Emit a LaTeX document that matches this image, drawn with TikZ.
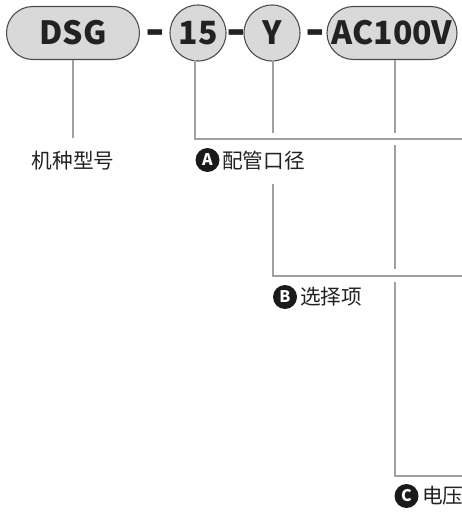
\documentclass[tikz,border=0pt]{standalone}
\usepackage{fontspec}
\setmainfont{Noto Sans CJK SC}
\definecolor{pillfill}{HTML}{D9D9D9}
\definecolor{pillborder}{HTML}{4A4A4A}
\definecolor{textdark}{HTML}{222222}
\definecolor{linegray}{HTML}{A0A0A4}
\definecolor{badgefill}{HTML}{1A1A1A}
\begin{document}
\begin{tikzpicture}[x=0.75pt,y=-0.75pt,
  pill/.style={draw=pillborder, fill=pillfill, line width=0.8pt, rounded corners=19.8pt,
    minimum height=39.75pt, inner sep=0pt, text=textdark,
    font=\bfseries\fontsize{24}{24}\selectfont},
  roundkey/.style={circle, draw=pillborder, fill=pillfill, line width=0.8pt,
    minimum size=42pt, inner sep=0pt, text=textdark,
    font=\bfseries\fontsize{24}{24}\selectfont},
  sepdash/.style={inner sep=0pt, text=textdark, font=\bfseries\fontsize{24}{24}\selectfont},
  lead/.style={draw=linegray, line width=1.5pt},
  lbl/.style={inner sep=0pt, anchor=west, text=textdark, font=\fontsize{15.5}{15.5}\selectfont},
  badge/.style={circle, fill=badgefill, minimum size=18pt, inner sep=0pt, text=white,
    font=\bfseries\fontsize{12}{12}\selectfont}
]
\useasboundingbox (0,0) rectangle (461,513);

% top code row
\node[pill, minimum width=99.75pt] (dsg) at (73,33) {DSG};
\node[sepdash] (d1) at (155,38) {\scalebox{1.6}[1.4]{-}};
\node[roundkey] (n15) at (198,33) {15};
\node[sepdash] (d2) at (236.5,38) {\scalebox{1.6}[1.4]{-}};
\node[roundkey] (ny) at (272,33) {Y};
\node[sepdash] (d3) at (315.5,38) {\scalebox{1.6}[1.4]{-}};
\node[pill, minimum width=97.5pt] (ac) at (392,33) {AC100V};

% labels
\node[inner sep=0pt, text=textdark, font=\fontsize{15.5}{15.5}\selectfont] (lmodel) at (73,161) {机种型号};
\node[badge] (ba) at (207.5,160) {A};
\node[lbl] (la) at (222,161) {配管口径};
\node[badge] (bb) at (285,297) {B};
\node[lbl] (lb) at (300,297) {选择项};
\node[badge] (bc) at (406.5,496) {C};
\node[lbl] (lc) at (422,496) {电压};

% coordinates for leader lines
\coordinate (dsgb) at (73,60);
\coordinate (dsge) at (73,138);
\coordinate (a0) at (195,60);
\coordinate (a1) at (195,139.5);
\coordinate (a2) at (470,139.5);
\coordinate (y0) at (273,60);
\coordinate (y1) at (273,133);
\coordinate (y2) at (273,184);
\coordinate (y3) at (273,275.5);
\coordinate (y4) at (470,275.5);
\coordinate (c0) at (395,60);
\coordinate (c1) at (395,133);
\coordinate (c2) at (395,145);
\coordinate (c3) at (395,269);
\coordinate (c4) at (395,282);
\coordinate (c5) at (395,475.5);
\coordinate (c6) at (470,475.5);

\draw[lead] (dsgb) -- (dsge);
\draw[lead] (a0) -- (a1) -- (a2);
\draw[lead] (y0) -- (y1);
\draw[lead] (y2) -- (y3) -- (y4);
\draw[lead] (c0) -- (c1);
\draw[lead] (c2) -- (c3);
\draw[lead] (c4) -- (c5) -- (c6);
\end{tikzpicture}
\end{document}
